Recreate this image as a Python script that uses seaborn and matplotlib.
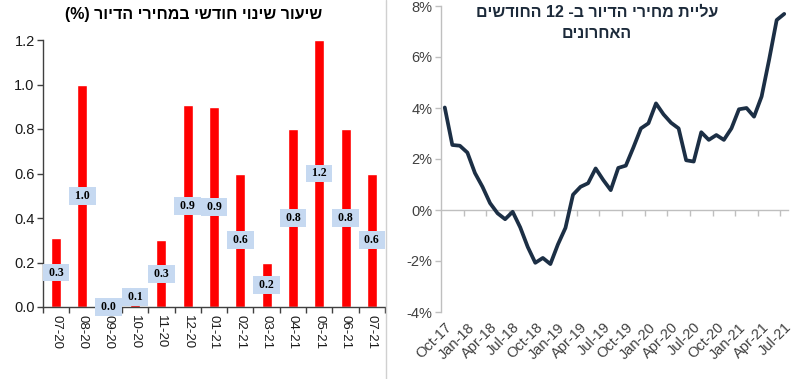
import re
import numpy as np
import pandas as pd
import matplotlib
matplotlib.use("Agg")
import matplotlib.pyplot as plt
from matplotlib.lines import Line2D
import seaborn as sns

# ---------------- data ----------------
bar_months = ["07-20", "08-20", "09-20", "10-20", "11-20", "12-20", "01-21",
              "02-21", "03-21", "04-21", "05-21", "06-21", "07-21"]
bar_values = [0.31, 1.0, 0.0, 0.09, 0.30, 0.91, 0.90, 0.60, 0.20, 0.80, 1.20, 0.80, 0.60]

line_start = "2017-10-01"
line_values = [4.02, 2.55, 2.52, 2.25, 1.45, 0.91, 0.27, -0.13, -0.36, -0.07,
               -0.68, -1.45, -2.07, -1.88, -2.12, -1.35, -0.70, 0.60, 0.91, 1.05,
               1.63, 1.18, 0.78, 1.65, 1.74, 2.45, 3.20, 3.40, 4.18, 3.75,
               3.42, 3.20, 1.95, 1.90, 3.05, 2.75, 2.94, 2.75, 3.20, 3.95,
               4.00, 3.66, 4.45, 5.90, 7.45, 7.69]
line_tick_labels = ["Oct-17", "Jan-18", "Apr-18", "Jul-18", "Oct-18", "Jan-19",
                    "Apr-19", "Jul-19", "Oct-19", "Jan-20", "Apr-20", "Jul-20",
                    "Oct-20", "Jan-21", "Apr-21", "Jul-21"]
left_y_ticks = [0.0, 0.2, 0.4, 0.6, 0.8, 1.0, 1.2]
right_y_ticks = [-4, -2, 0, 2, 4, 6, 8]

title_left = "שיעור שינוי חודשי במחירי הדיור (%)"
title_right_1 = "עליית מחירי הדיור ב- 12 החודשים"
title_right_2 = "האחרונים"


def rtl(s):
    """Convert logical Hebrew text to visual order for matplotlib."""
    r = s[::-1]
    r = re.sub(r"\d+", lambda m: m.group(0)[::-1], r)
    return r.translate(str.maketrans("()", ")("))


# ---------------- style ----------------
sns.set_theme(style="white")
plt.rcParams["font.family"] = ["Liberation Sans", "DejaVu Sans"]

W, H = 798, 379
fig = plt.figure(figsize=(W / 100, H / 100), dpi=100)

# ---------------- left: bar chart ----------------
ax1 = fig.add_axes([43 / W, 1 - 307 / H, 342 / W, 267 / H])
df1 = pd.DataFrame({"month": bar_months, "change": bar_values})
sns.barplot(data=df1, x="month", y="change", color="#ff0000", saturation=1,
            width=0.38, ax=ax1)
ax1.set_xlim(-0.5, len(bar_months) - 0.5)
ax1.set_ylim(0, 1.2)
ax1.set_xlabel("")
ax1.set_ylabel("")
ax1.set_yticks(left_y_ticks)
ax1.set_yticklabels([f"{v:.1f}" for v in left_y_ticks])
for s in ["top", "right"]:
    ax1.spines[s].set_visible(False)
for s in ["left", "bottom"]:
    ax1.spines[s].set_color("#404040")
    ax1.spines[s].set_linewidth(1)
ax1.tick_params(axis="y", left=True, length=4, width=1, color="#404040",
                labelsize=10.5, labelcolor="#1a1a1a", pad=2)
ax1.set_xticks(range(len(bar_months)))
ax1.set_xticklabels(bar_months, rotation=270, fontsize=9.5, color="#1a1a1a")
ax1.set_xticks(np.arange(-0.5, len(bar_months), 1.0), minor=True)
ax1.tick_params(axis="x", which="major", bottom=True, length=0, pad=6)
ax1.tick_params(axis="x", which="minor", bottom=True, length=4, width=1,
                color="#404040")
for i, v in enumerate(bar_values):
    ax1.text(i, v / 2, f" {v:.1f} ", ha="center", va="center", fontsize=8.5,
             fontweight="bold", color="black",
             family=["Liberation Serif", "DejaVu Serif"],
             bbox=dict(boxstyle="square,pad=0.25", fc="#c6d9f1", ec="none"),
             zorder=5, clip_on=False)

fig.text(194 / W, 1 - 15 / H, rtl(title_left), ha="center", va="center",
         fontsize=11.5, fontweight="bold", color="black")

# ---------------- right: line chart ----------------
ax2 = fig.add_axes([441 / W, 1 - 312 / H, 347 / W, 306 / H])
df2 = pd.DataFrame({"idx": np.arange(len(line_values)),
                    "month": pd.date_range(line_start, periods=len(line_values), freq="MS"),
                    "growth": line_values})
sns.lineplot(data=df2, x="idx", y="growth", color="#1c2f45", linewidth=2.7,
             ax=ax2, solid_joinstyle="round", solid_capstyle="round")
ax2.set_xlim(-0.5, len(line_values) - 0.5)
ax2.set_ylim(-4, 8)
ax2.set_xlabel("")
ax2.set_ylabel("")
ax2.set_yticks(right_y_ticks)
ax2.set_yticklabels([f"{v}%" for v in right_y_ticks])
for s in ["top", "right", "bottom"]:
    ax2.spines[s].set_visible(False)
ax2.spines["left"].set_color("#bfbfbf")
ax2.spines["left"].set_linewidth(1)
ax2.tick_params(axis="y", left=True, length=4, width=1, color="#bfbfbf",
                labelsize=10.5, labelcolor="#404040", pad=2)
ax2.set_xticks(np.arange(0, len(line_values), 3))
ax2.set_xticklabels(line_tick_labels, rotation=45, ha="right",
                    rotation_mode="anchor", fontsize=10.5, color="#404040")
ax2.tick_params(axis="x", bottom=True, length=0, pad=6)

sec = ax2.secondary_xaxis(1 / 3)
sec.set_xticks(np.arange(2.5, len(line_values), 3))
sec.set_xticklabels([])
sec.spines["bottom"].set_color("#bfbfbf")
sec.spines["bottom"].set_linewidth(1)
sec.tick_params(axis="x", length=4, width=1, color="#bfbfbf", direction="out")

fig.text(597 / W, 1 - 12 / H, rtl(title_right_1), ha="center", va="center",
         fontsize=11.5, fontweight="bold", color="#1c2a3a")
fig.text(597 / W, 1 - 33 / H, rtl(title_right_2), ha="center", va="center",
         fontsize=11.5, fontweight="bold", color="#1c2a3a")

# panel frame line
fig.add_artist(Line2D([386 / W, 386 / W], [0, 1], color="#d0d0d0", lw=1,
                      transform=fig.transFigure))

fig.savefig("out.png", dpi=100)
